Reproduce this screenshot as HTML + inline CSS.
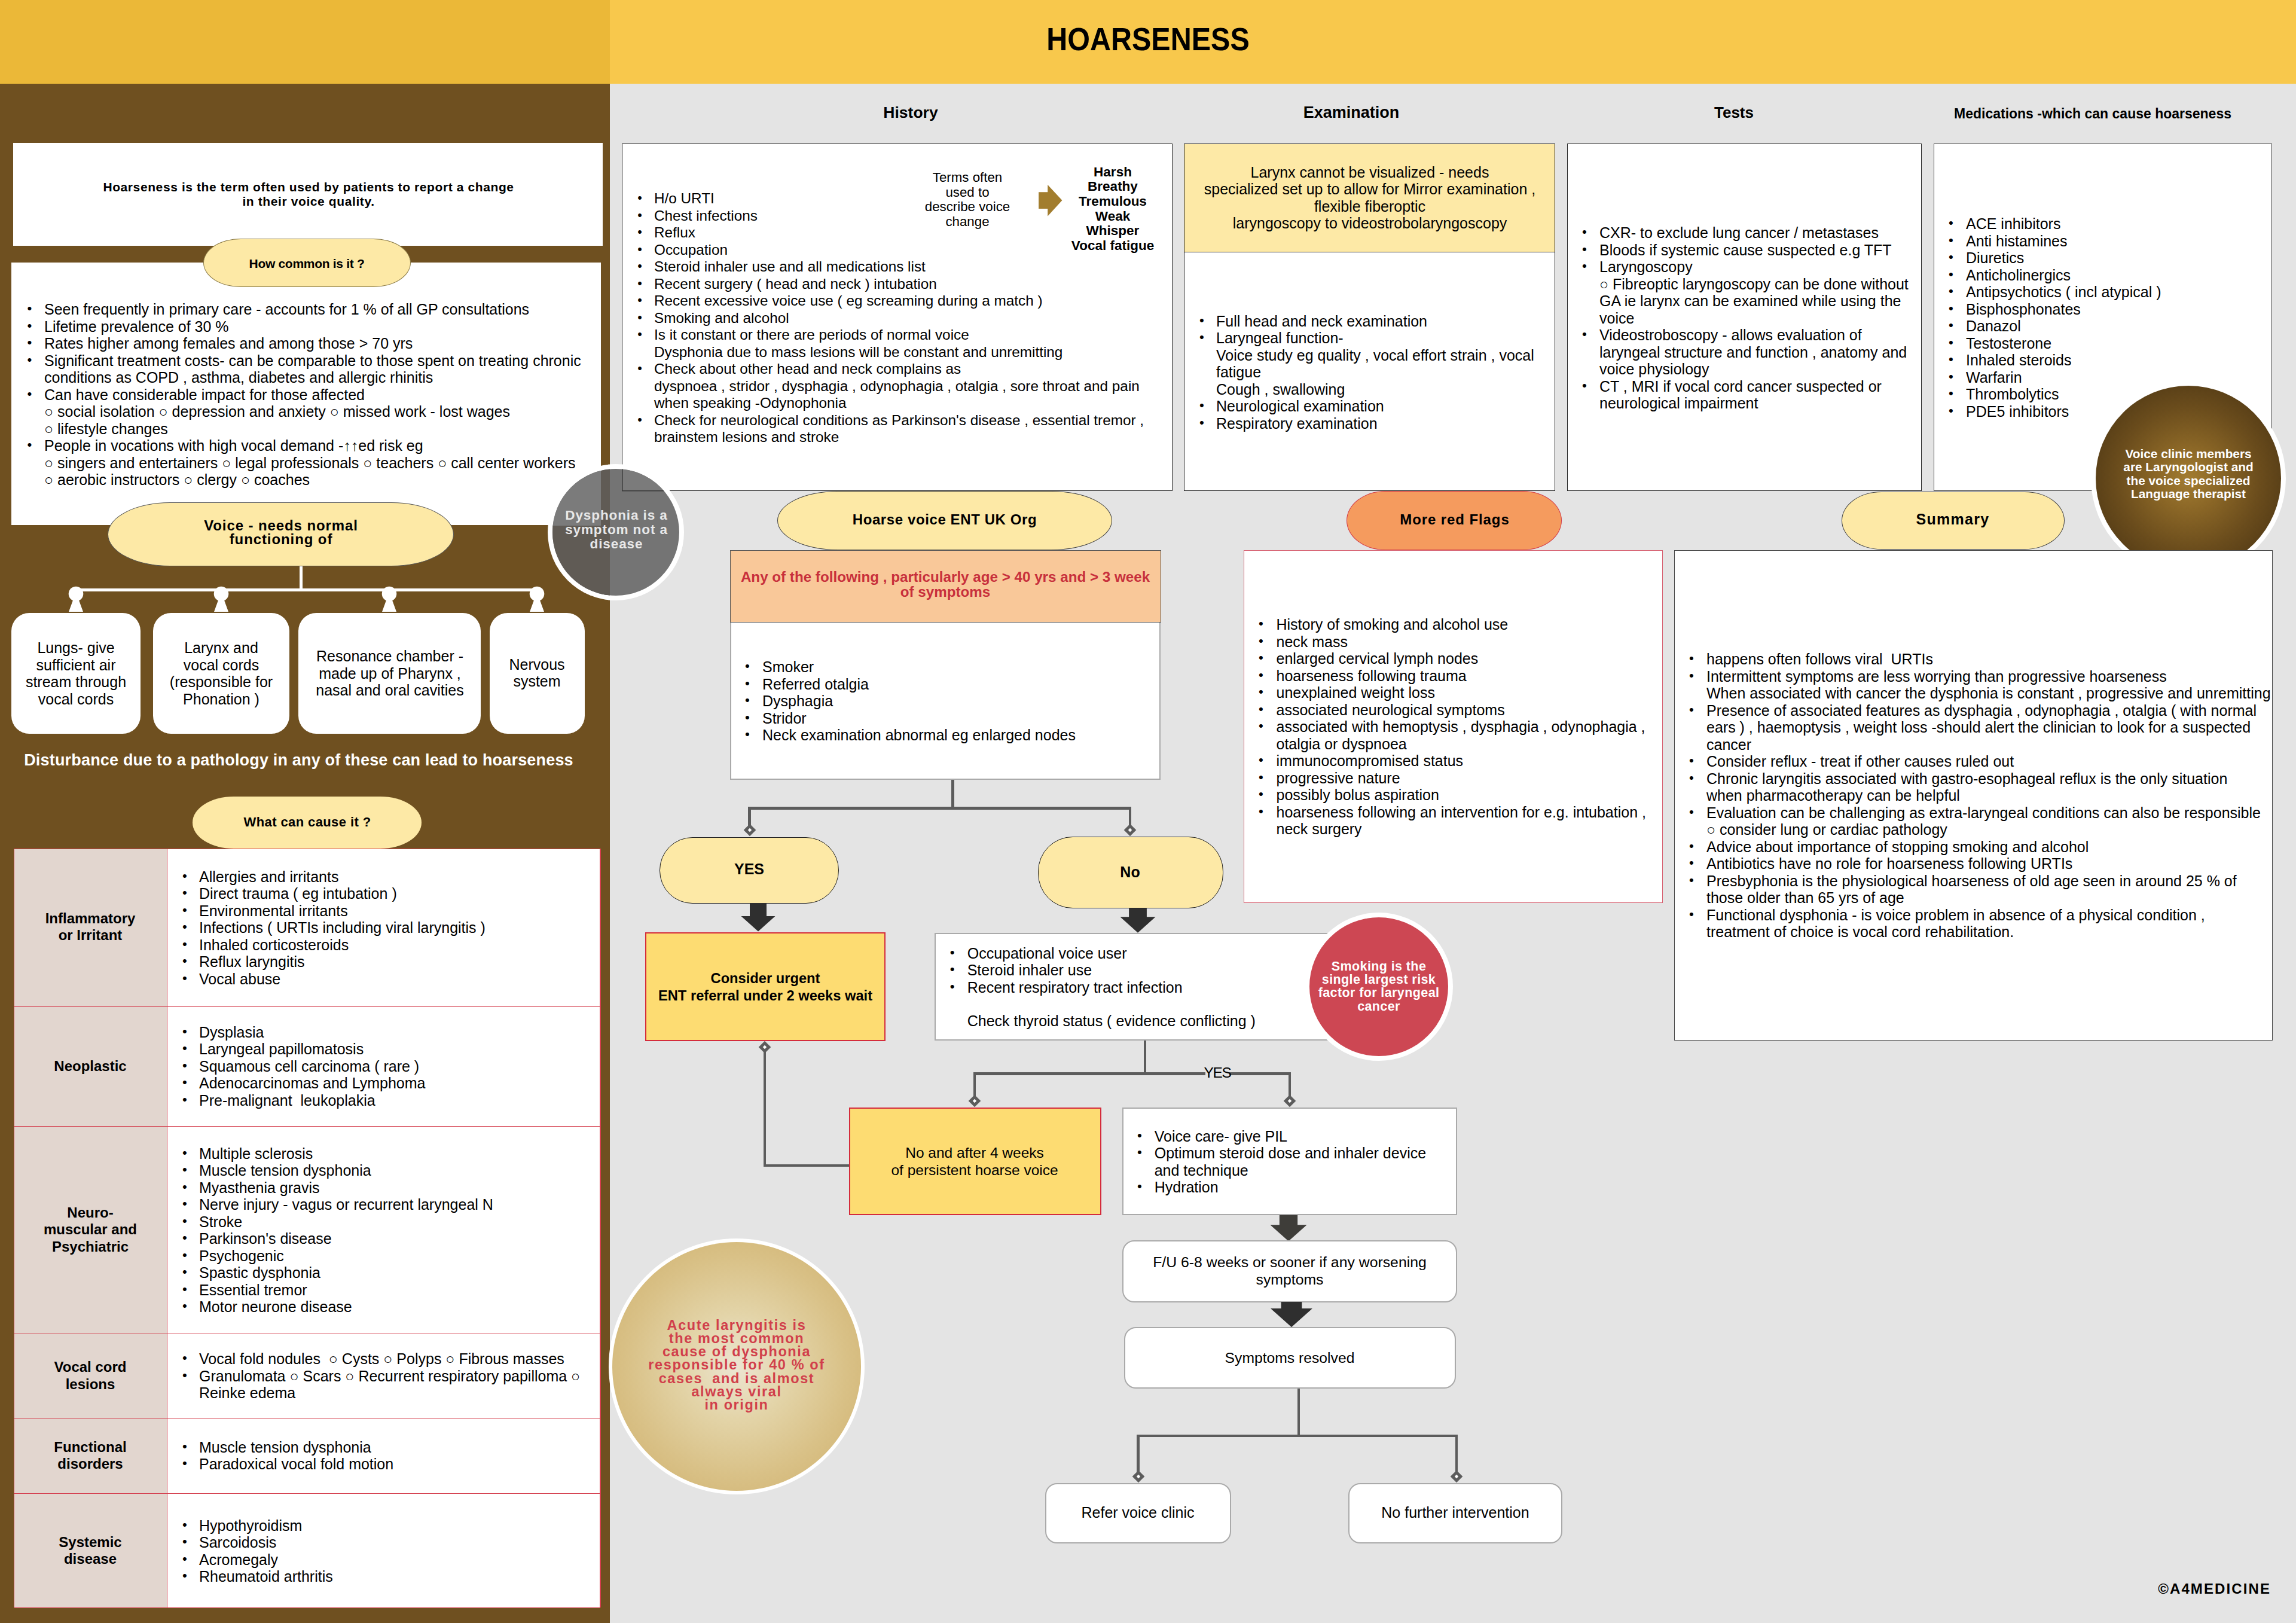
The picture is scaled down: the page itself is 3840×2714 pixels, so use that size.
<!DOCTYPE html><html><head><meta charset="utf-8"><style>
html,body{margin:0;padding:0;}
body{width:3840px;height:2714px;position:relative;overflow:hidden;background:#e4e4e4;font-family:"Liberation Sans",sans-serif;color:#000;}
div{box-sizing:border-box;}
</style></head><body>
<div style="position:absolute;left:0.0px;top:0.0px;width:1020.0px;height:140.0px;background:#ebb838;"></div>
<div style="position:absolute;left:1020.0px;top:0.0px;width:2820.0px;height:140.0px;background:#f8c84c;"></div>
<div style="position:absolute;left:0.0px;top:140.0px;width:1020.0px;height:2574.0px;background:#6f5020;"></div>
<div style="position:absolute;left:1020.0px;top:140.0px;width:2820.0px;height:2574.0px;background:#e4e4e4;"></div>
<div style="position:absolute;left:1519.5px;top:35.6px;width:800px;font-size:53px;line-height:60px;font-weight:bold;color:#000;text-align:center;white-space:pre;transform:scaleX(0.915);transform-origin:50% 50%;">HOARSENESS</div>
<div style="position:absolute;left:22.0px;top:239.0px;width:986.0px;height:172.0px;background:#fff;box-sizing:border-box;"></div>
<div style="position:absolute;left:16.0px;top:301.2px;width:1000px;font-size:21px;line-height:24px;font-weight:bold;color:#000;text-align:center;white-space:pre;letter-spacing:0.6px;">Hoarseness is the term often used by patients to report a change<br>in their voice quality.</div>
<div style="position:absolute;left:19.0px;top:439.0px;width:986.0px;height:439.0px;background:#fff;box-sizing:border-box;"></div>
<div style="position:absolute;left:340.0px;top:399.0px;width:347.0px;height:81.0px;background:#fde9a6;box-sizing:border-box;border:1.2px solid #8a7a46;border-radius:18% / 50%;"></div>
<div style="position:absolute;left:313.0px;top:428.7px;width:400px;font-size:21px;line-height:24px;font-weight:bold;color:#000;text-align:center;white-space:pre;letter-spacing:-0.3px;">How common is it ?</div>
<div style="position:absolute;left:45.6px;top:502.1px;width:40px;font-size:22.25px;line-height:28.5px;font-weight:normal;color:#000;text-align:left;white-space:pre;">•</div>
<div style="position:absolute;left:74.0px;top:503.1px;width:1200px;font-size:25px;line-height:28.5px;font-weight:normal;color:#000;text-align:left;white-space:pre;">Seen frequently in primary care - accounts for 1 % of all GP consultations</div>
<div style="position:absolute;left:45.6px;top:530.6px;width:40px;font-size:22.25px;line-height:28.5px;font-weight:normal;color:#000;text-align:left;white-space:pre;">•</div>
<div style="position:absolute;left:74.0px;top:531.6px;width:1200px;font-size:25px;line-height:28.5px;font-weight:normal;color:#000;text-align:left;white-space:pre;">Lifetime prevalence of 30 %</div>
<div style="position:absolute;left:45.6px;top:559.1px;width:40px;font-size:22.25px;line-height:28.5px;font-weight:normal;color:#000;text-align:left;white-space:pre;">•</div>
<div style="position:absolute;left:74.0px;top:560.1px;width:1200px;font-size:25px;line-height:28.5px;font-weight:normal;color:#000;text-align:left;white-space:pre;">Rates higher among females and among those > 70 yrs</div>
<div style="position:absolute;left:45.6px;top:587.6px;width:40px;font-size:22.25px;line-height:28.5px;font-weight:normal;color:#000;text-align:left;white-space:pre;">•</div>
<div style="position:absolute;left:74.0px;top:588.6px;width:1200px;font-size:25px;line-height:28.5px;font-weight:normal;color:#000;text-align:left;white-space:pre;">Significant treatment costs- can be comparable to those spent on treating chronic<br>conditions as COPD , asthma, diabetes and allergic rhinitis</div>
<div style="position:absolute;left:45.6px;top:644.6px;width:40px;font-size:22.25px;line-height:28.5px;font-weight:normal;color:#000;text-align:left;white-space:pre;">•</div>
<div style="position:absolute;left:74.0px;top:645.6px;width:1200px;font-size:25px;line-height:28.5px;font-weight:normal;color:#000;text-align:left;white-space:pre;">Can have considerable impact for those affected<br>○ social isolation ○ depression and anxiety ○ missed work - lost wages<br>○ lifestyle changes</div>
<div style="position:absolute;left:45.6px;top:730.1px;width:40px;font-size:22.25px;line-height:28.5px;font-weight:normal;color:#000;text-align:left;white-space:pre;">•</div>
<div style="position:absolute;left:74.0px;top:731.1px;width:1200px;font-size:25px;line-height:28.5px;font-weight:normal;color:#000;text-align:left;white-space:pre;">People in vocations with high vocal demand -↑↑ed risk eg<br>○ singers and entertainers ○ legal professionals ○ teachers ○ call center workers<br>○ aerobic instructors ○ clergy ○ coaches</div>
<div style="position:absolute;left:180.0px;top:840.0px;width:579.0px;height:107.0px;background:#fde9a6;box-sizing:border-box;border:1.5px solid #555;border-radius:18% / 50%;"></div>
<div style="position:absolute;left:170.0px;top:868.4px;width:600px;font-size:24px;line-height:22.5px;font-weight:bold;color:#000;text-align:center;white-space:pre;letter-spacing:0.9px;">Voice - needs normal<br>functioning of</div>
<div style="position:absolute;left:500.5px;top:947.0px;width:5.0px;height:42.0px;background:#fff;"></div>
<div style="position:absolute;left:126.0px;top:984.0px;width:772.0px;height:5.1px;background:#fff;"></div>
<svg style="position:absolute;left:112.8px;top:979px" width="28" height="46" viewBox="0 0 28 46"><circle cx="14" cy="14" r="12.3" fill="#fff"/><polygon points="10,22 18,22 26,44 2,44" fill="#fff"/></svg>
<svg style="position:absolute;left:356.0px;top:979px" width="28" height="46" viewBox="0 0 28 46"><circle cx="14" cy="14" r="12.3" fill="#fff"/><polygon points="10,22 18,22 26,44 2,44" fill="#fff"/></svg>
<svg style="position:absolute;left:637.0px;top:979px" width="28" height="46" viewBox="0 0 28 46"><circle cx="14" cy="14" r="12.3" fill="#fff"/><polygon points="10,22 18,22 26,44 2,44" fill="#fff"/></svg>
<svg style="position:absolute;left:884.0px;top:979px" width="28" height="46" viewBox="0 0 28 46"><circle cx="14" cy="14" r="12.3" fill="#fff"/><polygon points="10,22 18,22 26,44 2,44" fill="#fff"/></svg>
<div style="position:absolute;left:19.0px;top:1025.0px;width:216.0px;height:202.0px;background:#fff;box-sizing:border-box;border-radius:30px;"></div>
<div style="position:absolute;left:256.0px;top:1025.0px;width:228.0px;height:202.0px;background:#fff;box-sizing:border-box;border-radius:30px;"></div>
<div style="position:absolute;left:499.0px;top:1025.0px;width:305.0px;height:202.0px;background:#fff;box-sizing:border-box;border-radius:30px;"></div>
<div style="position:absolute;left:819.0px;top:1025.0px;width:159.0px;height:202.0px;background:#fff;box-sizing:border-box;border-radius:30px;"></div>
<div style="position:absolute;left:-23.0px;top:1069.1px;width:300px;font-size:25px;line-height:28.5px;font-weight:normal;color:#000;text-align:center;white-space:pre;">Lungs- give<br>sufficient air<br>stream through<br>vocal cords</div>
<div style="position:absolute;left:220.0px;top:1069.1px;width:300px;font-size:25px;line-height:28.5px;font-weight:normal;color:#000;text-align:center;white-space:pre;">Larynx and<br>vocal cords<br>(responsible for<br>Phonation )</div>
<div style="position:absolute;left:452.0px;top:1083.1px;width:400px;font-size:25px;line-height:28.5px;font-weight:normal;color:#000;text-align:center;white-space:pre;">Resonance chamber -<br>made up of Pharynx ,<br>nasal and oral cavities</div>
<div style="position:absolute;left:748.0px;top:1096.7px;width:300px;font-size:25px;line-height:28.5px;font-weight:normal;color:#000;text-align:center;white-space:pre;">Nervous<br>system</div>
<div style="position:absolute;left:-0.5px;top:1255.6px;width:1000px;font-size:27px;line-height:30px;font-weight:bold;color:#fff;text-align:center;white-space:pre;letter-spacing:0.18px;">Disturbance due to a pathology in any of these can lead to hoarseness</div>
<div style="position:absolute;left:322.0px;top:1332.0px;width:383.0px;height:87.0px;background:#fde9a6;box-sizing:border-box;border-radius:18% / 50%;"></div>
<div style="position:absolute;left:314.0px;top:1362.4px;width:400px;font-size:22px;line-height:26px;font-weight:bold;color:#000;text-align:center;white-space:pre;letter-spacing:0.4px;">What can cause it ?</div>
<div style="position:absolute;left:23.5px;top:1419.0px;width:980.5px;height:1269.0px;background:#fff;box-sizing:border-box;"></div>
<div style="position:absolute;left:23.5px;top:1419.0px;width:256.0px;height:1269.0px;background:#e2d6cf;"></div>
<div style="position:absolute;left:23.5px;top:1418.6px;width:980.5px;height:1.5px;background:#d43c4c;"></div>
<div style="position:absolute;left:23.5px;top:1682.6px;width:980.5px;height:1.5px;background:#d43c4c;"></div>
<div style="position:absolute;left:23.5px;top:1882.6px;width:980.5px;height:1.5px;background:#d43c4c;"></div>
<div style="position:absolute;left:23.5px;top:2229.6px;width:980.5px;height:1.5px;background:#d43c4c;"></div>
<div style="position:absolute;left:23.5px;top:2370.6px;width:980.5px;height:1.5px;background:#d43c4c;"></div>
<div style="position:absolute;left:23.5px;top:2496.6px;width:980.5px;height:1.5px;background:#d43c4c;"></div>
<div style="position:absolute;left:23.5px;top:2687.6px;width:980.5px;height:1.5px;background:#d43c4c;"></div>
<div style="position:absolute;left:22.8px;top:1419.0px;width:1.5px;height:1269.0px;background:#d43c4c;"></div>
<div style="position:absolute;left:278.8px;top:1419.0px;width:1.5px;height:1269.0px;background:#d43c4c;"></div>
<div style="position:absolute;left:1003.2px;top:1419.0px;width:1.5px;height:1269.0px;background:#d43c4c;"></div>
<div style="position:absolute;left:21.0px;top:1522.1px;width:260px;font-size:24px;line-height:28.3px;font-weight:bold;color:#000;text-align:center;white-space:pre;">Inflammatory<br>or Irritant</div>
<div style="position:absolute;left:21.0px;top:1769.0px;width:260px;font-size:24px;line-height:28.3px;font-weight:bold;color:#000;text-align:center;white-space:pre;">Neoplastic</div>
<div style="position:absolute;left:21.0px;top:2014.1px;width:260px;font-size:24px;line-height:28.3px;font-weight:bold;color:#000;text-align:center;white-space:pre;">Neuro-<br>muscular and<br>Psychiatric</div>
<div style="position:absolute;left:21.0px;top:2272.3px;width:260px;font-size:24px;line-height:28.3px;font-weight:bold;color:#000;text-align:center;white-space:pre;">Vocal cord<br>lesions</div>
<div style="position:absolute;left:21.0px;top:2405.9px;width:260px;font-size:24px;line-height:28.3px;font-weight:bold;color:#000;text-align:center;white-space:pre;">Functional<br>disorders</div>
<div style="position:absolute;left:21.0px;top:2564.5px;width:260px;font-size:24px;line-height:28.3px;font-weight:bold;color:#000;text-align:center;white-space:pre;">Systemic<br>disease</div>
<div style="position:absolute;left:305.1px;top:1450.5px;width:40px;font-size:22.25px;line-height:28.5px;font-weight:normal;color:#000;text-align:left;white-space:pre;">•</div>
<div style="position:absolute;left:333.0px;top:1451.5px;width:1200px;font-size:25px;line-height:28.5px;font-weight:normal;color:#000;text-align:left;white-space:pre;">Allergies and irritants</div>
<div style="position:absolute;left:305.1px;top:1479.0px;width:40px;font-size:22.25px;line-height:28.5px;font-weight:normal;color:#000;text-align:left;white-space:pre;">•</div>
<div style="position:absolute;left:333.0px;top:1480.0px;width:1200px;font-size:25px;line-height:28.5px;font-weight:normal;color:#000;text-align:left;white-space:pre;">Direct trauma ( eg intubation )</div>
<div style="position:absolute;left:305.1px;top:1507.5px;width:40px;font-size:22.25px;line-height:28.5px;font-weight:normal;color:#000;text-align:left;white-space:pre;">•</div>
<div style="position:absolute;left:333.0px;top:1508.5px;width:1200px;font-size:25px;line-height:28.5px;font-weight:normal;color:#000;text-align:left;white-space:pre;">Environmental irritants</div>
<div style="position:absolute;left:305.1px;top:1536.0px;width:40px;font-size:22.25px;line-height:28.5px;font-weight:normal;color:#000;text-align:left;white-space:pre;">•</div>
<div style="position:absolute;left:333.0px;top:1537.0px;width:1200px;font-size:25px;line-height:28.5px;font-weight:normal;color:#000;text-align:left;white-space:pre;">Infections ( URTIs including viral laryngitis )</div>
<div style="position:absolute;left:305.1px;top:1564.5px;width:40px;font-size:22.25px;line-height:28.5px;font-weight:normal;color:#000;text-align:left;white-space:pre;">•</div>
<div style="position:absolute;left:333.0px;top:1565.5px;width:1200px;font-size:25px;line-height:28.5px;font-weight:normal;color:#000;text-align:left;white-space:pre;">Inhaled corticosteroids</div>
<div style="position:absolute;left:305.1px;top:1593.0px;width:40px;font-size:22.25px;line-height:28.5px;font-weight:normal;color:#000;text-align:left;white-space:pre;">•</div>
<div style="position:absolute;left:333.0px;top:1594.0px;width:1200px;font-size:25px;line-height:28.5px;font-weight:normal;color:#000;text-align:left;white-space:pre;">Reflux laryngitis</div>
<div style="position:absolute;left:305.1px;top:1621.5px;width:40px;font-size:22.25px;line-height:28.5px;font-weight:normal;color:#000;text-align:left;white-space:pre;">•</div>
<div style="position:absolute;left:333.0px;top:1622.5px;width:1200px;font-size:25px;line-height:28.5px;font-weight:normal;color:#000;text-align:left;white-space:pre;">Vocal abuse</div>
<div style="position:absolute;left:305.1px;top:1710.9px;width:40px;font-size:22.25px;line-height:28.5px;font-weight:normal;color:#000;text-align:left;white-space:pre;">•</div>
<div style="position:absolute;left:333.0px;top:1711.9px;width:1200px;font-size:25px;line-height:28.5px;font-weight:normal;color:#000;text-align:left;white-space:pre;">Dysplasia</div>
<div style="position:absolute;left:305.1px;top:1739.4px;width:40px;font-size:22.25px;line-height:28.5px;font-weight:normal;color:#000;text-align:left;white-space:pre;">•</div>
<div style="position:absolute;left:333.0px;top:1740.4px;width:1200px;font-size:25px;line-height:28.5px;font-weight:normal;color:#000;text-align:left;white-space:pre;">Laryngeal papillomatosis</div>
<div style="position:absolute;left:305.1px;top:1767.9px;width:40px;font-size:22.25px;line-height:28.5px;font-weight:normal;color:#000;text-align:left;white-space:pre;">•</div>
<div style="position:absolute;left:333.0px;top:1768.9px;width:1200px;font-size:25px;line-height:28.5px;font-weight:normal;color:#000;text-align:left;white-space:pre;">Squamous cell carcinoma ( rare )</div>
<div style="position:absolute;left:305.1px;top:1796.4px;width:40px;font-size:22.25px;line-height:28.5px;font-weight:normal;color:#000;text-align:left;white-space:pre;">•</div>
<div style="position:absolute;left:333.0px;top:1797.4px;width:1200px;font-size:25px;line-height:28.5px;font-weight:normal;color:#000;text-align:left;white-space:pre;">Adenocarcinomas and Lymphoma</div>
<div style="position:absolute;left:305.1px;top:1824.9px;width:40px;font-size:22.25px;line-height:28.5px;font-weight:normal;color:#000;text-align:left;white-space:pre;">•</div>
<div style="position:absolute;left:333.0px;top:1825.9px;width:1200px;font-size:25px;line-height:28.5px;font-weight:normal;color:#000;text-align:left;white-space:pre;">Pre-malignant  leukoplakia</div>
<div style="position:absolute;left:305.1px;top:1913.9px;width:40px;font-size:22.25px;line-height:28.5px;font-weight:normal;color:#000;text-align:left;white-space:pre;">•</div>
<div style="position:absolute;left:333.0px;top:1914.9px;width:1200px;font-size:25px;line-height:28.5px;font-weight:normal;color:#000;text-align:left;white-space:pre;">Multiple sclerosis</div>
<div style="position:absolute;left:305.1px;top:1942.4px;width:40px;font-size:22.25px;line-height:28.5px;font-weight:normal;color:#000;text-align:left;white-space:pre;">•</div>
<div style="position:absolute;left:333.0px;top:1943.4px;width:1200px;font-size:25px;line-height:28.5px;font-weight:normal;color:#000;text-align:left;white-space:pre;">Muscle tension dysphonia</div>
<div style="position:absolute;left:305.1px;top:1970.9px;width:40px;font-size:22.25px;line-height:28.5px;font-weight:normal;color:#000;text-align:left;white-space:pre;">•</div>
<div style="position:absolute;left:333.0px;top:1971.9px;width:1200px;font-size:25px;line-height:28.5px;font-weight:normal;color:#000;text-align:left;white-space:pre;">Myasthenia gravis</div>
<div style="position:absolute;left:305.1px;top:1999.4px;width:40px;font-size:22.25px;line-height:28.5px;font-weight:normal;color:#000;text-align:left;white-space:pre;">•</div>
<div style="position:absolute;left:333.0px;top:2000.4px;width:1200px;font-size:25px;line-height:28.5px;font-weight:normal;color:#000;text-align:left;white-space:pre;">Nerve injury - vagus or recurrent laryngeal N</div>
<div style="position:absolute;left:305.1px;top:2027.9px;width:40px;font-size:22.25px;line-height:28.5px;font-weight:normal;color:#000;text-align:left;white-space:pre;">•</div>
<div style="position:absolute;left:333.0px;top:2028.9px;width:1200px;font-size:25px;line-height:28.5px;font-weight:normal;color:#000;text-align:left;white-space:pre;">Stroke</div>
<div style="position:absolute;left:305.1px;top:2056.4px;width:40px;font-size:22.25px;line-height:28.5px;font-weight:normal;color:#000;text-align:left;white-space:pre;">•</div>
<div style="position:absolute;left:333.0px;top:2057.4px;width:1200px;font-size:25px;line-height:28.5px;font-weight:normal;color:#000;text-align:left;white-space:pre;">Parkinson's disease</div>
<div style="position:absolute;left:305.1px;top:2084.9px;width:40px;font-size:22.25px;line-height:28.5px;font-weight:normal;color:#000;text-align:left;white-space:pre;">•</div>
<div style="position:absolute;left:333.0px;top:2085.9px;width:1200px;font-size:25px;line-height:28.5px;font-weight:normal;color:#000;text-align:left;white-space:pre;">Psychogenic</div>
<div style="position:absolute;left:305.1px;top:2113.4px;width:40px;font-size:22.25px;line-height:28.5px;font-weight:normal;color:#000;text-align:left;white-space:pre;">•</div>
<div style="position:absolute;left:333.0px;top:2114.4px;width:1200px;font-size:25px;line-height:28.5px;font-weight:normal;color:#000;text-align:left;white-space:pre;">Spastic dysphonia</div>
<div style="position:absolute;left:305.1px;top:2141.9px;width:40px;font-size:22.25px;line-height:28.5px;font-weight:normal;color:#000;text-align:left;white-space:pre;">•</div>
<div style="position:absolute;left:333.0px;top:2142.9px;width:1200px;font-size:25px;line-height:28.5px;font-weight:normal;color:#000;text-align:left;white-space:pre;">Essential tremor</div>
<div style="position:absolute;left:305.1px;top:2170.4px;width:40px;font-size:22.25px;line-height:28.5px;font-weight:normal;color:#000;text-align:left;white-space:pre;">•</div>
<div style="position:absolute;left:333.0px;top:2171.4px;width:1200px;font-size:25px;line-height:28.5px;font-weight:normal;color:#000;text-align:left;white-space:pre;">Motor neurone disease</div>
<div style="position:absolute;left:305.1px;top:2257.1px;width:40px;font-size:22.25px;line-height:28.5px;font-weight:normal;color:#000;text-align:left;white-space:pre;">•</div>
<div style="position:absolute;left:333.0px;top:2258.1px;width:1200px;font-size:25px;line-height:28.5px;font-weight:normal;color:#000;text-align:left;white-space:pre;">Vocal fold nodules  ○ Cysts ○ Polyps ○ Fibrous masses</div>
<div style="position:absolute;left:305.1px;top:2285.6px;width:40px;font-size:22.25px;line-height:28.5px;font-weight:normal;color:#000;text-align:left;white-space:pre;">•</div>
<div style="position:absolute;left:333.0px;top:2286.6px;width:1200px;font-size:25px;line-height:28.5px;font-weight:normal;color:#000;text-align:left;white-space:pre;">Granulomata ○ Scars ○ Recurrent respiratory papilloma ○<br>Reinke edema</div>
<div style="position:absolute;left:305.1px;top:2404.5px;width:40px;font-size:22.25px;line-height:28.5px;font-weight:normal;color:#000;text-align:left;white-space:pre;">•</div>
<div style="position:absolute;left:333.0px;top:2405.5px;width:1200px;font-size:25px;line-height:28.5px;font-weight:normal;color:#000;text-align:left;white-space:pre;">Muscle tension dysphonia</div>
<div style="position:absolute;left:305.1px;top:2433.0px;width:40px;font-size:22.25px;line-height:28.5px;font-weight:normal;color:#000;text-align:left;white-space:pre;">•</div>
<div style="position:absolute;left:333.0px;top:2434.0px;width:1200px;font-size:25px;line-height:28.5px;font-weight:normal;color:#000;text-align:left;white-space:pre;">Paradoxical vocal fold motion</div>
<div style="position:absolute;left:305.1px;top:2535.9px;width:40px;font-size:22.25px;line-height:28.5px;font-weight:normal;color:#000;text-align:left;white-space:pre;">•</div>
<div style="position:absolute;left:333.0px;top:2536.9px;width:1200px;font-size:25px;line-height:28.5px;font-weight:normal;color:#000;text-align:left;white-space:pre;">Hypothyroidism</div>
<div style="position:absolute;left:305.1px;top:2564.4px;width:40px;font-size:22.25px;line-height:28.5px;font-weight:normal;color:#000;text-align:left;white-space:pre;">•</div>
<div style="position:absolute;left:333.0px;top:2565.4px;width:1200px;font-size:25px;line-height:28.5px;font-weight:normal;color:#000;text-align:left;white-space:pre;">Sarcoidosis</div>
<div style="position:absolute;left:305.1px;top:2592.9px;width:40px;font-size:22.25px;line-height:28.5px;font-weight:normal;color:#000;text-align:left;white-space:pre;">•</div>
<div style="position:absolute;left:333.0px;top:2593.9px;width:1200px;font-size:25px;line-height:28.5px;font-weight:normal;color:#000;text-align:left;white-space:pre;">Acromegaly</div>
<div style="position:absolute;left:305.1px;top:2621.4px;width:40px;font-size:22.25px;line-height:28.5px;font-weight:normal;color:#000;text-align:left;white-space:pre;">•</div>
<div style="position:absolute;left:333.0px;top:2622.4px;width:1200px;font-size:25px;line-height:28.5px;font-weight:normal;color:#000;text-align:left;white-space:pre;">Rheumatoid arthritis</div>
<div style="position:absolute;left:1323.0px;top:172.8px;width:400px;font-size:26.5px;line-height:30px;font-weight:bold;color:#000;text-align:center;white-space:pre;">History</div>
<div style="position:absolute;left:2060.0px;top:172.6px;width:400px;font-size:27px;line-height:30px;font-weight:bold;color:#000;text-align:center;white-space:pre;">Examination</div>
<div style="position:absolute;left:2700.0px;top:173.0px;width:400px;font-size:26px;line-height:30px;font-weight:bold;color:#000;text-align:center;white-space:pre;">Tests</div>
<div style="position:absolute;left:3150.0px;top:177.0px;width:700px;font-size:23px;line-height:26px;font-weight:bold;color:#000;text-align:center;white-space:pre;">Medications -which can cause hoarseness</div>
<div style="position:absolute;left:1040.0px;top:240.0px;width:921.0px;height:581.0px;background:#fff;box-sizing:border-box;border:1.5px solid #222;"></div>
<div style="position:absolute;left:1980.0px;top:240.0px;width:621.0px;height:581.0px;background:#fff;box-sizing:border-box;border:1.5px solid #222;"></div>
<div style="position:absolute;left:1980.0px;top:240.0px;width:621.0px;height:182.0px;background:#fde9a6;border:1.5px solid #222;"></div>
<div style="position:absolute;left:2621.0px;top:240.0px;width:593.0px;height:581.0px;background:#fff;box-sizing:border-box;border:1.5px solid #222;"></div>
<div style="position:absolute;left:3234.0px;top:240.0px;width:566.0px;height:581.0px;background:#fff;box-sizing:border-box;border:1.2px solid #444;"></div>
<div style="position:absolute;left:1066.2px;top:317.4px;width:40px;font-size:21.627000000000002px;line-height:28.5px;font-weight:normal;color:#000;text-align:left;white-space:pre;">•</div>
<div style="position:absolute;left:1094.0px;top:318.3px;width:1200px;font-size:24.3px;line-height:28.5px;font-weight:normal;color:#000;text-align:left;white-space:pre;">H/o URTI</div>
<div style="position:absolute;left:1066.2px;top:345.9px;width:40px;font-size:21.627000000000002px;line-height:28.5px;font-weight:normal;color:#000;text-align:left;white-space:pre;">•</div>
<div style="position:absolute;left:1094.0px;top:346.8px;width:1200px;font-size:24.3px;line-height:28.5px;font-weight:normal;color:#000;text-align:left;white-space:pre;">Chest infections</div>
<div style="position:absolute;left:1066.2px;top:374.4px;width:40px;font-size:21.627000000000002px;line-height:28.5px;font-weight:normal;color:#000;text-align:left;white-space:pre;">•</div>
<div style="position:absolute;left:1094.0px;top:375.3px;width:1200px;font-size:24.3px;line-height:28.5px;font-weight:normal;color:#000;text-align:left;white-space:pre;">Reflux</div>
<div style="position:absolute;left:1066.2px;top:402.9px;width:40px;font-size:21.627000000000002px;line-height:28.5px;font-weight:normal;color:#000;text-align:left;white-space:pre;">•</div>
<div style="position:absolute;left:1094.0px;top:403.8px;width:1200px;font-size:24.3px;line-height:28.5px;font-weight:normal;color:#000;text-align:left;white-space:pre;">Occupation</div>
<div style="position:absolute;left:1066.2px;top:431.4px;width:40px;font-size:21.627000000000002px;line-height:28.5px;font-weight:normal;color:#000;text-align:left;white-space:pre;">•</div>
<div style="position:absolute;left:1094.0px;top:432.3px;width:1200px;font-size:24.3px;line-height:28.5px;font-weight:normal;color:#000;text-align:left;white-space:pre;">Steroid inhaler use and all medications list</div>
<div style="position:absolute;left:1066.2px;top:459.9px;width:40px;font-size:21.627000000000002px;line-height:28.5px;font-weight:normal;color:#000;text-align:left;white-space:pre;">•</div>
<div style="position:absolute;left:1094.0px;top:460.8px;width:1200px;font-size:24.3px;line-height:28.5px;font-weight:normal;color:#000;text-align:left;white-space:pre;">Recent surgery ( head and neck ) intubation</div>
<div style="position:absolute;left:1066.2px;top:488.4px;width:40px;font-size:21.627000000000002px;line-height:28.5px;font-weight:normal;color:#000;text-align:left;white-space:pre;">•</div>
<div style="position:absolute;left:1094.0px;top:489.3px;width:1200px;font-size:24.3px;line-height:28.5px;font-weight:normal;color:#000;text-align:left;white-space:pre;">Recent excessive voice use ( eg screaming during a match )</div>
<div style="position:absolute;left:1066.2px;top:516.9px;width:40px;font-size:21.627000000000002px;line-height:28.5px;font-weight:normal;color:#000;text-align:left;white-space:pre;">•</div>
<div style="position:absolute;left:1094.0px;top:517.8px;width:1200px;font-size:24.3px;line-height:28.5px;font-weight:normal;color:#000;text-align:left;white-space:pre;">Smoking and alcohol</div>
<div style="position:absolute;left:1066.2px;top:545.4px;width:40px;font-size:21.627000000000002px;line-height:28.5px;font-weight:normal;color:#000;text-align:left;white-space:pre;">•</div>
<div style="position:absolute;left:1094.0px;top:546.3px;width:1200px;font-size:24.3px;line-height:28.5px;font-weight:normal;color:#000;text-align:left;white-space:pre;">Is it constant or there are periods of normal voice<br>Dysphonia due to mass lesions will be constant and unremitting</div>
<div style="position:absolute;left:1066.2px;top:602.4px;width:40px;font-size:21.627000000000002px;line-height:28.5px;font-weight:normal;color:#000;text-align:left;white-space:pre;">•</div>
<div style="position:absolute;left:1094.0px;top:603.3px;width:1200px;font-size:24.3px;line-height:28.5px;font-weight:normal;color:#000;text-align:left;white-space:pre;">Check about other head and neck complains as<br>dyspnoea , stridor , dysphagia , odynophagia , otalgia , sore throat and pain<br>when speaking -Odynophonia</div>
<div style="position:absolute;left:1066.2px;top:687.9px;width:40px;font-size:21.627000000000002px;line-height:28.5px;font-weight:normal;color:#000;text-align:left;white-space:pre;">•</div>
<div style="position:absolute;left:1094.0px;top:688.8px;width:1200px;font-size:24.3px;line-height:28.5px;font-weight:normal;color:#000;text-align:left;white-space:pre;">Check for neurological conditions as Parkinson's disease , essential tremor ,<br>brainstem lesions and stroke</div>
<div style="position:absolute;left:1468.0px;top:285.0px;width:300px;font-size:22.3px;line-height:24.6px;font-weight:normal;color:#000;text-align:center;white-space:pre;">Terms often<br>used to<br>describe voice<br>change</div>
<svg style="position:absolute;left:1730px;top:300px" width="52" height="70" viewBox="0 0 52 70"><polygon points="7.1,21.3 22.2,21.3 22.2,9 46.4,35.1 22.2,61.6 22.2,49 7.1,49" fill="#a27d2e"/></svg>
<div style="position:absolute;left:1711.0px;top:275.9px;width:300px;font-size:22.5px;line-height:24.6px;font-weight:bold;color:#000;text-align:center;white-space:pre;">Harsh<br>Breathy<br>Tremulous<br>Weak<br>Whisper<br>Vocal fatigue</div>
<div style="position:absolute;left:1941.0px;top:273.6px;width:700px;font-size:25px;line-height:28.5px;font-weight:normal;color:#000;text-align:center;white-space:pre;">Larynx cannot be visualized - needs<br>specialized set up to allow for Mirror examination ,<br>flexible fiberoptic<br>laryngoscopy to videostrobolaryngoscopy</div>
<div style="position:absolute;left:2006.1px;top:521.5px;width:40px;font-size:22.25px;line-height:28.5px;font-weight:normal;color:#000;text-align:left;white-space:pre;">•</div>
<div style="position:absolute;left:2034.0px;top:522.5px;width:1200px;font-size:25px;line-height:28.5px;font-weight:normal;color:#000;text-align:left;white-space:pre;">Full head and neck examination</div>
<div style="position:absolute;left:2006.1px;top:550.0px;width:40px;font-size:22.25px;line-height:28.5px;font-weight:normal;color:#000;text-align:left;white-space:pre;">•</div>
<div style="position:absolute;left:2034.0px;top:551.0px;width:1200px;font-size:25px;line-height:28.5px;font-weight:normal;color:#000;text-align:left;white-space:pre;">Laryngeal function-<br>Voice study eg quality , vocal effort strain , vocal<br>fatigue<br>Cough , swallowing</div>
<div style="position:absolute;left:2006.1px;top:664.0px;width:40px;font-size:22.25px;line-height:28.5px;font-weight:normal;color:#000;text-align:left;white-space:pre;">•</div>
<div style="position:absolute;left:2034.0px;top:665.0px;width:1200px;font-size:25px;line-height:28.5px;font-weight:normal;color:#000;text-align:left;white-space:pre;">Neurological examination</div>
<div style="position:absolute;left:2006.1px;top:692.5px;width:40px;font-size:22.25px;line-height:28.5px;font-weight:normal;color:#000;text-align:left;white-space:pre;">•</div>
<div style="position:absolute;left:2034.0px;top:693.5px;width:1200px;font-size:25px;line-height:28.5px;font-weight:normal;color:#000;text-align:left;white-space:pre;">Respiratory examination</div>
<div style="position:absolute;left:2646.1px;top:374.1px;width:40px;font-size:22.25px;line-height:28.5px;font-weight:normal;color:#000;text-align:left;white-space:pre;">•</div>
<div style="position:absolute;left:2675.0px;top:375.1px;width:1200px;font-size:25px;line-height:28.5px;font-weight:normal;color:#000;text-align:left;white-space:pre;">CXR- to exclude lung cancer / metastases</div>
<div style="position:absolute;left:2646.1px;top:402.6px;width:40px;font-size:22.25px;line-height:28.5px;font-weight:normal;color:#000;text-align:left;white-space:pre;">•</div>
<div style="position:absolute;left:2675.0px;top:403.6px;width:1200px;font-size:25px;line-height:28.5px;font-weight:normal;color:#000;text-align:left;white-space:pre;">Bloods if systemic cause suspected e.g TFT</div>
<div style="position:absolute;left:2646.1px;top:431.1px;width:40px;font-size:22.25px;line-height:28.5px;font-weight:normal;color:#000;text-align:left;white-space:pre;">•</div>
<div style="position:absolute;left:2675.0px;top:432.1px;width:1200px;font-size:25px;line-height:28.5px;font-weight:normal;color:#000;text-align:left;white-space:pre;">Laryngoscopy<br>○ Fibreoptic laryngoscopy can be done without<br>GA ie larynx can be examined while using the<br>voice</div>
<div style="position:absolute;left:2646.1px;top:545.1px;width:40px;font-size:22.25px;line-height:28.5px;font-weight:normal;color:#000;text-align:left;white-space:pre;">•</div>
<div style="position:absolute;left:2675.0px;top:546.1px;width:1200px;font-size:25px;line-height:28.5px;font-weight:normal;color:#000;text-align:left;white-space:pre;">Videostroboscopy - allows evaluation of<br>laryngeal structure and function , anatomy and<br>voice physiology</div>
<div style="position:absolute;left:2646.1px;top:630.6px;width:40px;font-size:22.25px;line-height:28.5px;font-weight:normal;color:#000;text-align:left;white-space:pre;">•</div>
<div style="position:absolute;left:2675.0px;top:631.6px;width:1200px;font-size:25px;line-height:28.5px;font-weight:normal;color:#000;text-align:left;white-space:pre;">CT , MRI if vocal cord cancer suspected or<br>neurological impairment</div>
<div style="position:absolute;left:3259.1px;top:359.1px;width:40px;font-size:22.25px;line-height:28.5px;font-weight:normal;color:#000;text-align:left;white-space:pre;">•</div>
<div style="position:absolute;left:3288.0px;top:360.1px;width:1200px;font-size:25px;line-height:28.5px;font-weight:normal;color:#000;text-align:left;white-space:pre;">ACE inhibitors</div>
<div style="position:absolute;left:3259.1px;top:387.6px;width:40px;font-size:22.25px;line-height:28.5px;font-weight:normal;color:#000;text-align:left;white-space:pre;">•</div>
<div style="position:absolute;left:3288.0px;top:388.6px;width:1200px;font-size:25px;line-height:28.5px;font-weight:normal;color:#000;text-align:left;white-space:pre;">Anti histamines</div>
<div style="position:absolute;left:3259.1px;top:416.1px;width:40px;font-size:22.25px;line-height:28.5px;font-weight:normal;color:#000;text-align:left;white-space:pre;">•</div>
<div style="position:absolute;left:3288.0px;top:417.1px;width:1200px;font-size:25px;line-height:28.5px;font-weight:normal;color:#000;text-align:left;white-space:pre;">Diuretics</div>
<div style="position:absolute;left:3259.1px;top:444.6px;width:40px;font-size:22.25px;line-height:28.5px;font-weight:normal;color:#000;text-align:left;white-space:pre;">•</div>
<div style="position:absolute;left:3288.0px;top:445.6px;width:1200px;font-size:25px;line-height:28.5px;font-weight:normal;color:#000;text-align:left;white-space:pre;">Anticholinergics</div>
<div style="position:absolute;left:3259.1px;top:473.1px;width:40px;font-size:22.25px;line-height:28.5px;font-weight:normal;color:#000;text-align:left;white-space:pre;">•</div>
<div style="position:absolute;left:3288.0px;top:474.1px;width:1200px;font-size:25px;line-height:28.5px;font-weight:normal;color:#000;text-align:left;white-space:pre;">Antipsychotics ( incl atypical )</div>
<div style="position:absolute;left:3259.1px;top:501.6px;width:40px;font-size:22.25px;line-height:28.5px;font-weight:normal;color:#000;text-align:left;white-space:pre;">•</div>
<div style="position:absolute;left:3288.0px;top:502.6px;width:1200px;font-size:25px;line-height:28.5px;font-weight:normal;color:#000;text-align:left;white-space:pre;">Bisphosphonates</div>
<div style="position:absolute;left:3259.1px;top:530.1px;width:40px;font-size:22.25px;line-height:28.5px;font-weight:normal;color:#000;text-align:left;white-space:pre;">•</div>
<div style="position:absolute;left:3288.0px;top:531.1px;width:1200px;font-size:25px;line-height:28.5px;font-weight:normal;color:#000;text-align:left;white-space:pre;">Danazol</div>
<div style="position:absolute;left:3259.1px;top:558.6px;width:40px;font-size:22.25px;line-height:28.5px;font-weight:normal;color:#000;text-align:left;white-space:pre;">•</div>
<div style="position:absolute;left:3288.0px;top:559.6px;width:1200px;font-size:25px;line-height:28.5px;font-weight:normal;color:#000;text-align:left;white-space:pre;">Testosterone</div>
<div style="position:absolute;left:3259.1px;top:587.1px;width:40px;font-size:22.25px;line-height:28.5px;font-weight:normal;color:#000;text-align:left;white-space:pre;">•</div>
<div style="position:absolute;left:3288.0px;top:588.1px;width:1200px;font-size:25px;line-height:28.5px;font-weight:normal;color:#000;text-align:left;white-space:pre;">Inhaled steroids</div>
<div style="position:absolute;left:3259.1px;top:615.6px;width:40px;font-size:22.25px;line-height:28.5px;font-weight:normal;color:#000;text-align:left;white-space:pre;">•</div>
<div style="position:absolute;left:3288.0px;top:616.6px;width:1200px;font-size:25px;line-height:28.5px;font-weight:normal;color:#000;text-align:left;white-space:pre;">Warfarin</div>
<div style="position:absolute;left:3259.1px;top:644.1px;width:40px;font-size:22.25px;line-height:28.5px;font-weight:normal;color:#000;text-align:left;white-space:pre;">•</div>
<div style="position:absolute;left:3288.0px;top:645.1px;width:1200px;font-size:25px;line-height:28.5px;font-weight:normal;color:#000;text-align:left;white-space:pre;">Thrombolytics</div>
<div style="position:absolute;left:3259.1px;top:672.6px;width:40px;font-size:22.25px;line-height:28.5px;font-weight:normal;color:#000;text-align:left;white-space:pre;">•</div>
<div style="position:absolute;left:3288.0px;top:673.6px;width:1200px;font-size:25px;line-height:28.5px;font-weight:normal;color:#000;text-align:left;white-space:pre;">PDE5 inhibitors</div>
<div style="position:absolute;left:3497px;top:637px;width:326px;height:326px;border-radius:50%;background:#fff;"></div>
<div style="position:absolute;left:3505px;top:645px;width:310px;height:310px;border-radius:50%;background:radial-gradient(circle at 50% 50%, #a27c32 0%, #8a6626 25%, #6a4c1c 55%, #4e3714 85%, #4a3312 100%);"></div>
<div style="position:absolute;left:3500.0px;top:748.1px;width:320px;font-size:20.8px;line-height:22.3px;font-weight:bold;color:#fff;text-align:center;white-space:pre;">Voice clinic members<br>are Laryngologist and<br>the voice specialized<br>Language therapist</div>
<div style="position:absolute;left:1300.0px;top:821.0px;width:560.0px;height:99.0px;background:#fde9a6;box-sizing:border-box;border:1.2px solid #444;border-radius:18% / 50%;"></div>
<div style="position:absolute;left:1280.0px;top:854.7px;width:600px;font-size:24px;line-height:28px;font-weight:bold;color:#000;text-align:center;white-space:pre;letter-spacing:0.6px;">Hoarse voice ENT UK Org</div>
<div style="position:absolute;left:1221.0px;top:920.0px;width:720.0px;height:384.0px;background:#fff;box-sizing:border-box;border:2px solid #aaa;"></div>
<div style="position:absolute;left:1221.0px;top:920.0px;width:721.0px;height:121.0px;background:#f9c899;border:1.3px solid #555;"></div>
<div style="position:absolute;left:1181.0px;top:953.3px;width:800px;font-size:24.2px;line-height:24.7px;font-weight:bold;color:#c8303c;text-align:center;white-space:pre;">Any of the following , particularly age > 40 yrs and > 3 week<br>of symptoms</div>
<div style="position:absolute;left:1246.1px;top:1100.1px;width:40px;font-size:22.25px;line-height:28.5px;font-weight:normal;color:#000;text-align:left;white-space:pre;">•</div>
<div style="position:absolute;left:1275.0px;top:1101.1px;width:1200px;font-size:25px;line-height:28.5px;font-weight:normal;color:#000;text-align:left;white-space:pre;">Smoker</div>
<div style="position:absolute;left:1246.1px;top:1128.6px;width:40px;font-size:22.25px;line-height:28.5px;font-weight:normal;color:#000;text-align:left;white-space:pre;">•</div>
<div style="position:absolute;left:1275.0px;top:1129.6px;width:1200px;font-size:25px;line-height:28.5px;font-weight:normal;color:#000;text-align:left;white-space:pre;">Referred otalgia</div>
<div style="position:absolute;left:1246.1px;top:1157.1px;width:40px;font-size:22.25px;line-height:28.5px;font-weight:normal;color:#000;text-align:left;white-space:pre;">•</div>
<div style="position:absolute;left:1275.0px;top:1158.1px;width:1200px;font-size:25px;line-height:28.5px;font-weight:normal;color:#000;text-align:left;white-space:pre;">Dysphagia</div>
<div style="position:absolute;left:1246.1px;top:1185.6px;width:40px;font-size:22.25px;line-height:28.5px;font-weight:normal;color:#000;text-align:left;white-space:pre;">•</div>
<div style="position:absolute;left:1275.0px;top:1186.6px;width:1200px;font-size:25px;line-height:28.5px;font-weight:normal;color:#000;text-align:left;white-space:pre;">Stridor</div>
<div style="position:absolute;left:1246.1px;top:1214.1px;width:40px;font-size:22.25px;line-height:28.5px;font-weight:normal;color:#000;text-align:left;white-space:pre;">•</div>
<div style="position:absolute;left:1275.0px;top:1215.1px;width:1200px;font-size:25px;line-height:28.5px;font-weight:normal;color:#000;text-align:left;white-space:pre;">Neck examination abnormal eg enlarged nodes</div>
<div style="position:absolute;left:1591.3px;top:1304.0px;width:4.4px;height:49.7px;background:#5c5c5c;"></div>
<div style="position:absolute;left:1251.3px;top:1349.3px;width:640.9px;height:4.4px;background:#5c5c5c;"></div>
<div style="position:absolute;left:1251.3px;top:1349.0px;width:4.4px;height:39.0px;background:#5c5c5c;"></div>
<div style="position:absolute;left:1887.8px;top:1349.0px;width:4.4px;height:39.0px;background:#5c5c5c;"></div>
<svg style="position:absolute;left:1241.5px;top:1376px" width="24" height="24" viewBox="0 0 24 24"><polygon points="12,1.7 22.3,12 12,22.3 1.7,12" fill="#5c5c5c"/><polygon points="12,8.8 15.2,12 12,15.2 8.8,12" fill="#fff"/></svg>
<svg style="position:absolute;left:1878px;top:1376px" width="24" height="24" viewBox="0 0 24 24"><polygon points="12,1.7 22.3,12 12,22.3 1.7,12" fill="#5c5c5c"/><polygon points="12,8.8 15.2,12 12,15.2 8.8,12" fill="#fff"/></svg>
<div style="position:absolute;left:1103.0px;top:1400.0px;width:300.0px;height:110.5px;background:#fde9a6;box-sizing:border-box;border:1.8px solid #222;border-radius:55px;"></div>
<div style="position:absolute;left:1153.0px;top:1439.0px;width:200px;font-size:25px;line-height:28px;font-weight:bold;color:#000;text-align:center;white-space:pre;">YES</div>
<div style="position:absolute;left:1736.0px;top:1399.0px;width:309.5px;height:120.0px;background:#fde9a6;box-sizing:border-box;border:1.8px solid #222;border-radius:58px;"></div>
<div style="position:absolute;left:1790.0px;top:1443.8px;width:200px;font-size:25px;line-height:28px;font-weight:bold;color:#000;text-align:center;white-space:pre;">No</div>
<svg style="position:absolute;left:1228.0px;top:1510.0px" width="80" height="47.5" viewBox="0 0 80 47.5"><polygon points="26.0,0 54.0,0 54.0,22 68.5,22 40,47.5 11.5,22 26.0,22" fill="#2f2f2f"/></svg>
<svg style="position:absolute;left:1863.1px;top:1519.0px" width="80" height="40.7" viewBox="0 0 80 40.7"><polygon points="25.1,0 54.9,0 54.9,14.299999999999955 69.5,14.299999999999955 40,40.700000000000045 10.5,14.299999999999955 25.1,14.299999999999955" fill="#2f2f2f"/></svg>
<div style="position:absolute;left:1079.0px;top:1559.0px;width:402.0px;height:181.5px;background:#fddc72;box-sizing:border-box;border:2px solid #d42c3c;"></div>
<div style="position:absolute;left:1030.0px;top:1622.2px;width:500px;font-size:23.7px;line-height:28.4px;font-weight:bold;color:#000;text-align:center;white-space:pre;">Consider urgent<br>ENT referral under 2 weeks wait</div>
<div style="position:absolute;left:1276.8px;top:1751.0px;width:4.4px;height:200.0px;background:#5c5c5c;"></div>
<div style="position:absolute;left:1276.8px;top:1946.8px;width:144.4px;height:4.4px;background:#5c5c5c;"></div>
<svg style="position:absolute;left:1267px;top:1739px" width="24" height="24" viewBox="0 0 24 24"><polygon points="12,1.7 22.3,12 12,22.3 1.7,12" fill="#5c5c5c"/><polygon points="12,8.8 15.2,12 12,15.2 8.8,12" fill="#fff"/></svg>
<div style="position:absolute;left:1563.0px;top:1560.0px;width:680.0px;height:180.0px;background:#fff;box-sizing:border-box;border:2px solid #aaa;"></div>
<div style="position:absolute;left:1588.7px;top:1578.7px;width:40px;font-size:22.25px;line-height:28.5px;font-weight:normal;color:#000;text-align:left;white-space:pre;">•</div>
<div style="position:absolute;left:1617.7px;top:1579.7px;width:1200px;font-size:25px;line-height:28.5px;font-weight:normal;color:#000;text-align:left;white-space:pre;">Occupational voice user</div>
<div style="position:absolute;left:1588.7px;top:1607.2px;width:40px;font-size:22.25px;line-height:28.5px;font-weight:normal;color:#000;text-align:left;white-space:pre;">•</div>
<div style="position:absolute;left:1617.7px;top:1608.2px;width:1200px;font-size:25px;line-height:28.5px;font-weight:normal;color:#000;text-align:left;white-space:pre;">Steroid inhaler use</div>
<div style="position:absolute;left:1588.7px;top:1635.7px;width:40px;font-size:22.25px;line-height:28.5px;font-weight:normal;color:#000;text-align:left;white-space:pre;">•</div>
<div style="position:absolute;left:1617.7px;top:1636.7px;width:1200px;font-size:25px;line-height:28.5px;font-weight:normal;color:#000;text-align:left;white-space:pre;">Recent respiratory tract infection</div>
<div style="position:absolute;left:1617.7px;top:1693.1px;width:1200px;font-size:25px;line-height:28.5px;font-weight:normal;color:#000;text-align:left;white-space:pre;">Check thyroid status ( evidence conflicting )</div>
<div style="position:absolute;left:2181.7px;top:1525.7px;width:248px;height:248px;border-radius:50%;background:#fff;"></div>
<div style="position:absolute;left:2189.7px;top:1533.7px;width:232px;height:232px;border-radius:50%;background:#cd4753;"></div>
<div style="position:absolute;left:2156.0px;top:1604.6px;width:300px;font-size:21.5px;line-height:22.35px;font-weight:bold;color:#fff;text-align:center;white-space:pre;letter-spacing:0.4px;">Smoking is the<br>single largest risk<br>factor for laryngeal<br>cancer</div>
<div style="position:absolute;left:1912.8px;top:1740.0px;width:4.4px;height:57.6px;background:#5c5c5c;"></div>
<div style="position:absolute;left:1627.8px;top:1793.2px;width:531.4px;height:4.4px;background:#5c5c5c;"></div>
<div style="position:absolute;left:1627.8px;top:1793.2px;width:4.4px;height:47.8px;background:#5c5c5c;"></div>
<div style="position:absolute;left:2154.8px;top:1793.2px;width:4.4px;height:47.8px;background:#5c5c5c;"></div>
<svg style="position:absolute;left:1618px;top:1829px" width="24" height="24" viewBox="0 0 24 24"><polygon points="12,1.7 22.3,12 12,22.3 1.7,12" fill="#5c5c5c"/><polygon points="12,8.8 15.2,12 12,15.2 8.8,12" fill="#fff"/></svg>
<svg style="position:absolute;left:2145px;top:1829px" width="24" height="24" viewBox="0 0 24 24"><polygon points="12,1.7 22.3,12 12,22.3 1.7,12" fill="#5c5c5c"/><polygon points="12,8.8 15.2,12 12,15.2 8.8,12" fill="#fff"/></svg>
<div style="position:absolute;left:2015.7px;top:1781px;width:40.5px;height:26px;background:#e4e4e4;"></div>
<div style="position:absolute;left:1986.0px;top:1780.7px;width:100px;font-size:24.5px;line-height:26px;font-weight:normal;color:#000;text-align:center;white-space:pre;letter-spacing:-1.3px;">YES</div>
<div style="position:absolute;left:1419.5px;top:1851.6px;width:422.8px;height:180.0px;background:#fddc72;box-sizing:border-box;border:2px solid #d42c3c;"></div>
<div style="position:absolute;left:1380.0px;top:1914.3px;width:500px;font-size:24.5px;line-height:28.5px;font-weight:normal;color:#000;text-align:center;white-space:pre;">No and after 4 weeks<br>of persistent hoarse voice</div>
<div style="position:absolute;left:1876.7px;top:1851.6px;width:560.3px;height:180.0px;background:#fff;box-sizing:border-box;border:2px solid #aaa;"></div>
<div style="position:absolute;left:1902.1px;top:1884.8px;width:40px;font-size:22.25px;line-height:28.5px;font-weight:normal;color:#000;text-align:left;white-space:pre;">•</div>
<div style="position:absolute;left:1930.7px;top:1885.8px;width:1200px;font-size:25px;line-height:28.5px;font-weight:normal;color:#000;text-align:left;white-space:pre;">Voice care- give PIL</div>
<div style="position:absolute;left:1902.1px;top:1913.3px;width:40px;font-size:22.25px;line-height:28.5px;font-weight:normal;color:#000;text-align:left;white-space:pre;">•</div>
<div style="position:absolute;left:1930.7px;top:1914.3px;width:1200px;font-size:25px;line-height:28.5px;font-weight:normal;color:#000;text-align:left;white-space:pre;">Optimum steroid dose and inhaler device<br>and technique</div>
<div style="position:absolute;left:1902.1px;top:1970.3px;width:40px;font-size:22.25px;line-height:28.5px;font-weight:normal;color:#000;text-align:left;white-space:pre;">•</div>
<div style="position:absolute;left:1930.7px;top:1971.3px;width:1200px;font-size:25px;line-height:28.5px;font-weight:normal;color:#000;text-align:left;white-space:pre;">Hydration</div>
<svg style="position:absolute;left:2115.4px;top:2032.0px" width="80" height="43.5" viewBox="0 0 80 43.5"><polygon points="24.85,0 55.15,0 55.15,16.300000000000182 70.6,16.300000000000182 40,43.5 9.399999999999999,16.300000000000182 24.85,16.300000000000182" fill="#3e3d39"/></svg>
<div style="position:absolute;left:1877.0px;top:2074.0px;width:559.8px;height:103.8px;background:#fff;box-sizing:border-box;border:2px solid #aaa;border-radius:20px;"></div>
<div style="position:absolute;left:1857.0px;top:2097.2px;width:600px;font-size:24.8px;line-height:28.5px;font-weight:normal;color:#000;text-align:center;white-space:pre;">F/U 6-8 weeks or sooner if any worsening<br>symptoms</div>
<svg style="position:absolute;left:2120.2px;top:2177.0px" width="80" height="42.2" viewBox="0 0 80 42.2"><polygon points="22.6,0 57.4,0 57.4,11 75.0,11 40,42.19999999999982 5.0,11 22.6,11" fill="#2f2f2f"/></svg>
<div style="position:absolute;left:1879.7px;top:2219.0px;width:555.8px;height:103.3px;background:#fff;box-sizing:border-box;border:2px solid #aaa;border-radius:20px;"></div>
<div style="position:absolute;left:1857.0px;top:2257.2px;width:600px;font-size:24.7px;line-height:28.5px;font-weight:normal;color:#000;text-align:center;white-space:pre;">Symptoms resolved</div>
<div style="position:absolute;left:2169.8px;top:2322.0px;width:4.4px;height:80.9px;background:#5c5c5c;"></div>
<div style="position:absolute;left:1901.4px;top:2398.5px;width:536.5px;height:4.4px;background:#5c5c5c;"></div>
<div style="position:absolute;left:1901.4px;top:2398.5px;width:4.4px;height:70.1px;background:#5c5c5c;"></div>
<div style="position:absolute;left:2433.5px;top:2398.5px;width:4.4px;height:70.1px;background:#5c5c5c;"></div>
<svg style="position:absolute;left:1891.6px;top:2456.6px" width="24" height="24" viewBox="0 0 24 24"><polygon points="12,1.7 22.3,12 12,22.3 1.7,12" fill="#5c5c5c"/><polygon points="12,8.8 15.2,12 12,15.2 8.8,12" fill="#fff"/></svg>
<svg style="position:absolute;left:2423.7px;top:2456.6px" width="24" height="24" viewBox="0 0 24 24"><polygon points="12,1.7 22.3,12 12,22.3 1.7,12" fill="#5c5c5c"/><polygon points="12,8.8 15.2,12 12,15.2 8.8,12" fill="#fff"/></svg>
<div style="position:absolute;left:1747.6px;top:2480.0px;width:311.7px;height:100.5px;background:#fff;box-sizing:border-box;border:2px solid #aaa;border-radius:20px;"></div>
<div style="position:absolute;left:1703.0px;top:2515.1px;width:400px;font-size:25px;line-height:28.5px;font-weight:normal;color:#000;text-align:center;white-space:pre;">Refer voice clinic</div>
<div style="position:absolute;left:2255.3px;top:2480.0px;width:357.5px;height:100.5px;background:#fff;box-sizing:border-box;border:2px solid #aaa;border-radius:20px;"></div>
<div style="position:absolute;left:2234.0px;top:2515.1px;width:400px;font-size:25px;line-height:28.5px;font-weight:normal;color:#000;text-align:center;white-space:pre;">No further intervention</div>
<div style="position:absolute;left:1018px;top:2071px;width:428px;height:428px;border-radius:50%;background:#fff;"></div>
<div style="position:absolute;left:1024px;top:2077px;width:416px;height:416px;border-radius:50%;background:radial-gradient(circle at 50% 50%, #ece5d2 0%, #e3d4a8 30%, #d9c187 62%, #cdad68 100%);"></div>
<div style="position:absolute;left:1012.0px;top:2204.8px;width:440px;font-size:23.5px;line-height:22.2px;font-weight:bold;color:#d13f4b;text-align:center;white-space:pre;letter-spacing:1.6px;">Acute laryngitis is<br>the most common<br>cause of dysphonia<br>responsible for 40 % of<br>cases  and is almost<br>always viral<br>in origin</div>
<svg style="position:absolute;left:916px;top:776px" width="228" height="228" viewBox="0 0 228 228"><defs><clipPath id="dc"><circle cx="114" cy="114" r="106"/></clipPath></defs><circle cx="114" cy="114" r="114" fill="#fff"/><g clip-path="url(#dc)"><rect x="0" y="0" width="228" height="228" fill="#747474"/><rect x="0" y="0" width="89" height="103" fill="#7b7b7b"/><rect x="0" y="103" width="104" height="125" fill="#605b55"/><rect x="89" y="0" width="15" height="228" fill="#605b55"/><rect x="124.5" y="0" width="103.5" height="45" fill="#7b7b7b"/><rect x="124" y="0" width="1.5" height="45" fill="#3a3a3a"/><rect x="124" y="44" width="104" height="1.5" fill="#3a3a3a"/></g></svg>
<div style="position:absolute;left:881.0px;top:849.6px;width:300px;font-size:22.5px;line-height:24.3px;font-weight:bold;color:#e8e8e8;text-align:center;white-space:pre;letter-spacing:0.9px;">Dysphonia is a<br>symptom not a<br>disease</div>
<div style="position:absolute;left:2252.0px;top:821.0px;width:360.0px;height:99.0px;background:#f59b5e;box-sizing:border-box;border:1.8px solid #d23a48;border-radius:18% / 50%;"></div>
<div style="position:absolute;left:2233.0px;top:855.3px;width:400px;font-size:24px;line-height:28px;font-weight:bold;color:#000;text-align:center;white-space:pre;letter-spacing:0.9px;">More red Flags</div>
<div style="position:absolute;left:2080.0px;top:920.0px;width:701.0px;height:590.0px;background:#fff;box-sizing:border-box;border:1.5px solid #d66070;"></div>
<div style="position:absolute;left:2105.1px;top:1029.1px;width:40px;font-size:22.25px;line-height:28.5px;font-weight:normal;color:#000;text-align:left;white-space:pre;">•</div>
<div style="position:absolute;left:2134.5px;top:1030.1px;width:1200px;font-size:25px;line-height:28.5px;font-weight:normal;color:#000;text-align:left;white-space:pre;">History of smoking and alcohol use</div>
<div style="position:absolute;left:2105.1px;top:1057.6px;width:40px;font-size:22.25px;line-height:28.5px;font-weight:normal;color:#000;text-align:left;white-space:pre;">•</div>
<div style="position:absolute;left:2134.5px;top:1058.6px;width:1200px;font-size:25px;line-height:28.5px;font-weight:normal;color:#000;text-align:left;white-space:pre;">neck mass</div>
<div style="position:absolute;left:2105.1px;top:1086.1px;width:40px;font-size:22.25px;line-height:28.5px;font-weight:normal;color:#000;text-align:left;white-space:pre;">•</div>
<div style="position:absolute;left:2134.5px;top:1087.1px;width:1200px;font-size:25px;line-height:28.5px;font-weight:normal;color:#000;text-align:left;white-space:pre;">enlarged cervical lymph nodes</div>
<div style="position:absolute;left:2105.1px;top:1114.6px;width:40px;font-size:22.25px;line-height:28.5px;font-weight:normal;color:#000;text-align:left;white-space:pre;">•</div>
<div style="position:absolute;left:2134.5px;top:1115.6px;width:1200px;font-size:25px;line-height:28.5px;font-weight:normal;color:#000;text-align:left;white-space:pre;">hoarseness following trauma</div>
<div style="position:absolute;left:2105.1px;top:1143.1px;width:40px;font-size:22.25px;line-height:28.5px;font-weight:normal;color:#000;text-align:left;white-space:pre;">•</div>
<div style="position:absolute;left:2134.5px;top:1144.1px;width:1200px;font-size:25px;line-height:28.5px;font-weight:normal;color:#000;text-align:left;white-space:pre;">unexplained weight loss</div>
<div style="position:absolute;left:2105.1px;top:1171.6px;width:40px;font-size:22.25px;line-height:28.5px;font-weight:normal;color:#000;text-align:left;white-space:pre;">•</div>
<div style="position:absolute;left:2134.5px;top:1172.6px;width:1200px;font-size:25px;line-height:28.5px;font-weight:normal;color:#000;text-align:left;white-space:pre;">associated neurological symptoms</div>
<div style="position:absolute;left:2105.1px;top:1200.1px;width:40px;font-size:22.25px;line-height:28.5px;font-weight:normal;color:#000;text-align:left;white-space:pre;">•</div>
<div style="position:absolute;left:2134.5px;top:1201.1px;width:1200px;font-size:25px;line-height:28.5px;font-weight:normal;color:#000;text-align:left;white-space:pre;">associated with hemoptysis , dysphagia , odynophagia ,<br>otalgia or dyspnoea</div>
<div style="position:absolute;left:2105.1px;top:1257.1px;width:40px;font-size:22.25px;line-height:28.5px;font-weight:normal;color:#000;text-align:left;white-space:pre;">•</div>
<div style="position:absolute;left:2134.5px;top:1258.1px;width:1200px;font-size:25px;line-height:28.5px;font-weight:normal;color:#000;text-align:left;white-space:pre;">immunocompromised status</div>
<div style="position:absolute;left:2105.1px;top:1285.6px;width:40px;font-size:22.25px;line-height:28.5px;font-weight:normal;color:#000;text-align:left;white-space:pre;">•</div>
<div style="position:absolute;left:2134.5px;top:1286.6px;width:1200px;font-size:25px;line-height:28.5px;font-weight:normal;color:#000;text-align:left;white-space:pre;">progressive nature</div>
<div style="position:absolute;left:2105.1px;top:1314.1px;width:40px;font-size:22.25px;line-height:28.5px;font-weight:normal;color:#000;text-align:left;white-space:pre;">•</div>
<div style="position:absolute;left:2134.5px;top:1315.1px;width:1200px;font-size:25px;line-height:28.5px;font-weight:normal;color:#000;text-align:left;white-space:pre;">possibly bolus aspiration</div>
<div style="position:absolute;left:2105.1px;top:1342.6px;width:40px;font-size:22.25px;line-height:28.5px;font-weight:normal;color:#000;text-align:left;white-space:pre;">•</div>
<div style="position:absolute;left:2134.5px;top:1343.6px;width:1200px;font-size:25px;line-height:28.5px;font-weight:normal;color:#000;text-align:left;white-space:pre;">hoarseness following an intervention for e.g. intubation ,<br>neck surgery</div>
<div style="position:absolute;left:3079.6px;top:821.6px;width:373.4px;height:97.9px;background:#fde9a6;box-sizing:border-box;border:1.2px solid #444;border-radius:18% / 50%;"></div>
<div style="position:absolute;left:3116.0px;top:854.3px;width:300px;font-size:25px;line-height:28px;font-weight:bold;color:#000;text-align:center;white-space:pre;letter-spacing:1.3px;">Summary</div>
<div style="position:absolute;left:2800.0px;top:920.0px;width:1001.0px;height:820.0px;background:#fff;box-sizing:border-box;border:1.2px solid #444;"></div>
<div style="position:absolute;left:2825.1px;top:1087.1px;width:40px;font-size:22.25px;line-height:28.5px;font-weight:normal;color:#000;text-align:left;white-space:pre;">•</div>
<div style="position:absolute;left:2854.0px;top:1088.1px;width:1200px;font-size:25px;line-height:28.5px;font-weight:normal;color:#000;text-align:left;white-space:pre;">happens often follows viral  URTIs</div>
<div style="position:absolute;left:2825.1px;top:1115.6px;width:40px;font-size:22.25px;line-height:28.5px;font-weight:normal;color:#000;text-align:left;white-space:pre;">•</div>
<div style="position:absolute;left:2854.0px;top:1116.6px;width:1200px;font-size:25px;line-height:28.5px;font-weight:normal;color:#000;text-align:left;white-space:pre;">Intermittent symptoms are less worrying than progressive hoarseness<br>When associated with cancer the dysphonia is constant , progressive and unremitting</div>
<div style="position:absolute;left:2825.1px;top:1172.6px;width:40px;font-size:22.25px;line-height:28.5px;font-weight:normal;color:#000;text-align:left;white-space:pre;">•</div>
<div style="position:absolute;left:2854.0px;top:1173.6px;width:1200px;font-size:25px;line-height:28.5px;font-weight:normal;color:#000;text-align:left;white-space:pre;">Presence of associated features as dysphagia , odynophagia , otalgia ( with normal<br>ears ) , haemoptysis , weight loss -should alert the clinician to look for a suspected<br>cancer</div>
<div style="position:absolute;left:2825.1px;top:1258.1px;width:40px;font-size:22.25px;line-height:28.5px;font-weight:normal;color:#000;text-align:left;white-space:pre;">•</div>
<div style="position:absolute;left:2854.0px;top:1259.1px;width:1200px;font-size:25px;line-height:28.5px;font-weight:normal;color:#000;text-align:left;white-space:pre;">Consider reflux - treat if other causes ruled out</div>
<div style="position:absolute;left:2825.1px;top:1286.6px;width:40px;font-size:22.25px;line-height:28.5px;font-weight:normal;color:#000;text-align:left;white-space:pre;">•</div>
<div style="position:absolute;left:2854.0px;top:1287.6px;width:1200px;font-size:25px;line-height:28.5px;font-weight:normal;color:#000;text-align:left;white-space:pre;">Chronic laryngitis associated with gastro-esophageal reflux is the only situation<br>when pharmacotherapy can be helpful</div>
<div style="position:absolute;left:2825.1px;top:1343.6px;width:40px;font-size:22.25px;line-height:28.5px;font-weight:normal;color:#000;text-align:left;white-space:pre;">•</div>
<div style="position:absolute;left:2854.0px;top:1344.6px;width:1200px;font-size:25px;line-height:28.5px;font-weight:normal;color:#000;text-align:left;white-space:pre;">Evaluation can be challenging as extra-laryngeal conditions can also be responsible<br>○ consider lung or cardiac pathology</div>
<div style="position:absolute;left:2825.1px;top:1400.6px;width:40px;font-size:22.25px;line-height:28.5px;font-weight:normal;color:#000;text-align:left;white-space:pre;">•</div>
<div style="position:absolute;left:2854.0px;top:1401.6px;width:1200px;font-size:25px;line-height:28.5px;font-weight:normal;color:#000;text-align:left;white-space:pre;">Advice about importance of stopping smoking and alcohol</div>
<div style="position:absolute;left:2825.1px;top:1429.1px;width:40px;font-size:22.25px;line-height:28.5px;font-weight:normal;color:#000;text-align:left;white-space:pre;">•</div>
<div style="position:absolute;left:2854.0px;top:1430.1px;width:1200px;font-size:25px;line-height:28.5px;font-weight:normal;color:#000;text-align:left;white-space:pre;">Antibiotics have no role for hoarseness following URTIs</div>
<div style="position:absolute;left:2825.1px;top:1457.6px;width:40px;font-size:22.25px;line-height:28.5px;font-weight:normal;color:#000;text-align:left;white-space:pre;">•</div>
<div style="position:absolute;left:2854.0px;top:1458.6px;width:1200px;font-size:25px;line-height:28.5px;font-weight:normal;color:#000;text-align:left;white-space:pre;">Presbyphonia is the physiological hoarseness of old age seen in around 25 % of<br>those older than 65 yrs of age</div>
<div style="position:absolute;left:2825.1px;top:1514.6px;width:40px;font-size:22.25px;line-height:28.5px;font-weight:normal;color:#000;text-align:left;white-space:pre;">•</div>
<div style="position:absolute;left:2854.0px;top:1515.6px;width:1200px;font-size:25px;line-height:28.5px;font-weight:normal;color:#000;text-align:left;white-space:pre;">Functional dysphonia - is voice problem in absence of a physical condition ,<br>treatment of choice is vocal cord rehabilitation.</div>
<div style="position:absolute;left:3398.0px;top:2642.7px;width:400px;font-size:24px;line-height:28px;font-weight:bold;color:#000;text-align:right;white-space:pre;letter-spacing:2.1px;">©A4MEDICINE</div>
</body></html>
